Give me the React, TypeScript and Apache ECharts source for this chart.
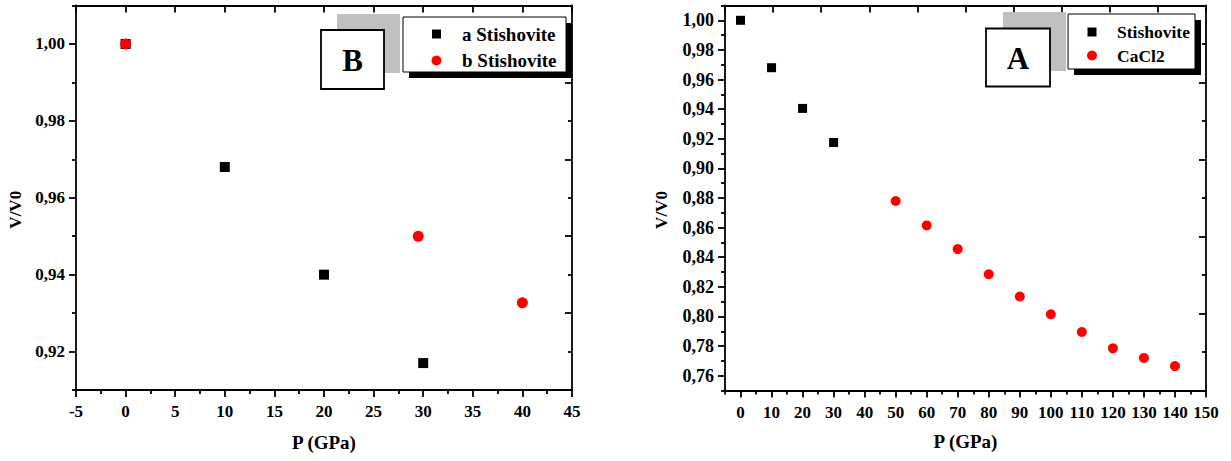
import React, { useEffect, useRef } from 'react';
import * as echarts from 'echarts';

// ---- Data (panel B, left) ----
const bStishA_P = [0, 10, 20, 30];
const bStishA_V = [1.0, 0.968, 0.94, 0.917];
const bStishB_P = [0, 29.5, 40];
const bStishB_V = [1.0, 0.95, 0.9327];

// ---- Data (panel A, right) ----
const aStish_P = [0, 10, 20, 30];
const aStish_V = [1.0, 0.968, 0.9405, 0.9175];
const aCaCl2_P = [50, 60, 70, 80, 90, 100, 110, 120, 130, 140];
const aCaCl2_V = [0.878, 0.8615, 0.8455, 0.8285, 0.8135, 0.8015, 0.7895, 0.7785, 0.772, 0.7665];

// ---- Ticks: panel B ----
const bXMajor = [-5, 0, 5, 10, 15, 20, 25, 30, 35, 40, 45];
const bXMinor = [-2.5, 2.5, 7.5, 12.5, 17.5, 22.5, 27.5, 32.5, 37.5, 42.5];
const bXTop = [-5, 0, 5, 10, 15, 20, 25, 30, 35, 40, 45];
const bYMajor = [0.92, 0.94, 0.96, 0.98, 1.0];
const bYMinor = [0.91, 0.93, 0.95, 0.97, 0.99, 1.01];
const bYRightMajor = [0.91, 0.93, 0.95, 0.97, 0.99, 1.01];
const bYRightMinor = [0.92, 0.94, 0.96, 0.98, 1.0];

// ---- Ticks: panel A ----
const aXMajor = [0, 10, 20, 30, 40, 50, 60, 70, 80, 90, 100, 110, 120, 130, 140, 150];
const aXMinor = [-5, 5, 15, 25, 35, 45, 55, 65, 75, 85, 95, 105, 115, 125, 135, 145];
const aXTop = [-5, 10.5, 26, 41.5, 57, 72.5, 88, 103.5, 119, 134.5, 150];
const aYMajor = [0.76, 0.78, 0.8, 0.82, 0.84, 0.86, 0.88, 0.9, 0.92, 0.94, 0.96, 0.98, 1.0];
const aYMinor = [0.75, 0.77, 0.79, 0.81, 0.83, 0.85, 0.87, 0.89, 0.91, 0.93, 0.95, 0.97, 0.99, 1.01];
const aYRightMajor = [0.75, 0.802, 0.854, 0.906, 0.958, 1.01];
const aYRightMinor = [0.776, 0.828, 0.88, 0.932, 0.984];

const xLabel = 'P (GPa)';
const yLabel = 'V/V0';
const FONT = '"Liberation Serif", "Times New Roman", serif';
const BLACK = '#000';
const RED = '#ff0000';

const zip = (xs: number[], ys: number[]) => xs.map((x, i) => [x, ys[i]]);

const lineStyle = { color: BLACK, width: 1.8 };
const labelFont = { fontFamily: FONT, fontWeight: 'bold' as const, fontSize: 17, color: BLACK };
const nameFont = { fontFamily: FONT, fontWeight: 'bold' as const, fontSize: 19, color: BLACK };

function xAxes(grid: number, min: number, max: number, major: number[], minor: number[], top: number[], nameGap: number) {
  return [
    {
      type: 'value', gridIndex: grid, position: 'bottom', min, max,
      name: xLabel, nameLocation: 'middle', nameGap, nameTextStyle: nameFont,
      axisLine: { show: true, onZero: false, lineStyle },
      axisTick: { show: true, customValues: major, length: 7, inside: false, lineStyle },
      axisLabel: { show: true, customValues: major, margin: 13, ...labelFont, formatter: (v: number) => String(v) },
      splitLine: { show: false },
    },
    {
      type: 'value', gridIndex: grid, position: 'bottom', min, max,
      axisLine: { show: false, onZero: false },
      axisTick: { show: true, customValues: minor, length: 4, inside: false, lineStyle },
      axisLabel: { show: false },
      splitLine: { show: false },
    },
    {
      type: 'value', gridIndex: grid, position: 'top', min, max,
      axisLine: { show: true, onZero: false, lineStyle },
      axisTick: { show: true, customValues: top, length: 7, inside: true, lineStyle },
      axisLabel: { show: false },
      splitLine: { show: false },
    },
  ];
}

function yAxes(
  grid: number, min: number, max: number, major: number[], minor: number[],
  rMajor: number[], rMinor: number[], nameGap: number, labelSize: number
) {
  return [
    {
      type: 'value', gridIndex: grid, position: 'left', min, max,
      name: yLabel, nameLocation: 'middle', nameGap, nameTextStyle: { ...nameFont, fontSize: 17, padding: [0, 24, 0, 0] },
      axisLine: { show: true, onZero: false, lineStyle },
      axisTick: { show: true, customValues: major, length: 7, inside: false, lineStyle },
      axisLabel: { show: true, customValues: major, margin: 11, ...labelFont, fontSize: labelSize, formatter: (v: number) => v.toFixed(2).replace('.', ',') },
      splitLine: { show: false },
    },
    {
      type: 'value', gridIndex: grid, position: 'left', min, max,
      axisLine: { show: false, onZero: false },
      axisTick: { show: true, customValues: minor, length: 4, inside: false, lineStyle },
      axisLabel: { show: false },
      splitLine: { show: false },
    },
    {
      type: 'value', gridIndex: grid, position: 'right', min, max,
      axisLine: { show: true, onZero: false, lineStyle },
      axisTick: { show: true, customValues: rMajor, length: 7, inside: true, lineStyle },
      axisLabel: { show: false },
      splitLine: { show: false },
    },
    {
      type: 'value', gridIndex: grid, position: 'right', min, max,
      axisLine: { show: false, onZero: false },
      axisTick: { show: true, customValues: rMinor, length: 4, inside: true, lineStyle },
      axisLabel: { show: false },
      splitLine: { show: false },
    },
  ];
}

function panelGraphics(
  gray: [number, number, number, number],
  box: [number, number, number, number],
  letter: string,
  legend: [number, number, number, number],
  names: [string, string],
  iconX: number,
  textX: number,
  rowY: [number, number],
  fontSize: number
) {
  const f = `bold ${fontSize}px ${FONT}`;
  return [
    { type: 'rect', z: 10, shape: { x: gray[0], y: gray[1], width: gray[2], height: gray[3] }, style: { fill: '#c0c0c0' } },
    { type: 'rect', z: 11, shape: { x: box[0], y: box[1], width: box[2], height: box[3] }, style: { fill: '#fff', stroke: BLACK, lineWidth: 1.8 } },
    { type: 'text', z: 12, x: box[0] + box[2] / 2, y: box[1] + box[3] / 2 + 1, style: { text: letter, align: 'center', verticalAlign: 'middle', font: `bold 31px ${FONT}`, fill: BLACK } },
    { type: 'rect', z: 10, shape: { x: legend[0] + 6, y: legend[1] + 6, width: legend[2], height: legend[3] }, style: { fill: BLACK } },
    { type: 'rect', z: 11, shape: { x: legend[0], y: legend[1], width: legend[2], height: legend[3] }, style: { fill: '#fff', stroke: BLACK, lineWidth: 1 } },
    { type: 'rect', z: 12, shape: { x: iconX - 4.5, y: rowY[0] - 4.5, width: 9, height: 9 }, style: { fill: BLACK } },
    { type: 'text', z: 12, x: textX, y: rowY[0], style: { text: names[0], align: 'left', verticalAlign: 'middle', font: f, fill: BLACK } },
    { type: 'circle', z: 12, shape: { cx: iconX, cy: rowY[1], r: 5 }, style: { fill: RED } },
    { type: 'text', z: 12, x: textX, y: rowY[1], style: { text: names[1], align: 'left', verticalAlign: 'middle', font: f, fill: BLACK } },
  ];
}

export default function App() {
  const ref = useRef<HTMLDivElement>(null);
  useEffect(() => {
    if (!ref.current) return;
    const chart = echarts.init(ref.current, undefined, { renderer: 'svg' });
    const sym = { opacity: 1 };
    const option: any = {
      animation: false,
      backgroundColor: '#fff',
      grid: [
        { left: 76, top: 5.5, width: 496, height: 384.5 },
        { left: 725, top: 5.5, width: 481, height: 385 },
      ],
      xAxis: [
        ...xAxes(0, -5, 45, bXMajor, bXMinor, bXTop, 43),
        ...xAxes(1, -5, 150, aXMajor, aXMinor, aXTop, 41),
      ],
      yAxis: [
        ...yAxes(0, 0.91, 1.01, bYMajor, bYMinor, bYRightMajor, bYRightMinor, 52, 17),
        ...yAxes(1, 0.75, 1.01, aYMajor, aYMinor, aYRightMajor, aYRightMinor, 55, 18),
      ],
      series: [
        { name: 'a Stishovite', type: 'scatter', xAxisIndex: 0, yAxisIndex: 0, symbol: 'rect', symbolSize: 10, itemStyle: { color: BLACK, ...sym }, data: zip(bStishA_P, bStishA_V) },
        { name: 'b Stishovite', type: 'scatter', xAxisIndex: 0, yAxisIndex: 0, symbol: 'circle', symbolSize: 11, itemStyle: { color: RED, ...sym }, data: zip(bStishB_P, bStishB_V) },
        { name: 'Stishovite', type: 'scatter', xAxisIndex: 3, yAxisIndex: 4, symbol: 'rect', symbolSize: 9, itemStyle: { color: BLACK, ...sym }, data: zip(aStish_P, aStish_V) },
        { name: 'CaCl2', type: 'scatter', xAxisIndex: 3, yAxisIndex: 4, symbol: 'circle', symbolSize: 10, itemStyle: { color: RED, ...sym }, data: zip(aCaCl2_P, aCaCl2_V) },
      ],
      graphic: [
        ...panelGraphics([337, 14, 63, 59], [321, 30, 63, 59], 'B', [403, 17, 163, 55], ['a Stishovite', 'b Stishovite'], 436.5, 462, [34, 60.5], 19),
        ...panelGraphics([1003, 12, 63, 59], [986, 28.5, 64, 58], 'A', [1068, 14, 127, 55], ['Stishovite', 'CaCl2'], 1092, 1117, [32, 55.5], 17.5),
      ],
    };
    chart.setOption(option);
    return () => chart.dispose();
  }, []);
  return <div ref={ref} style={{ position: 'absolute', left: 0, top: 0, width: 1231, height: 461 }} />;
}
